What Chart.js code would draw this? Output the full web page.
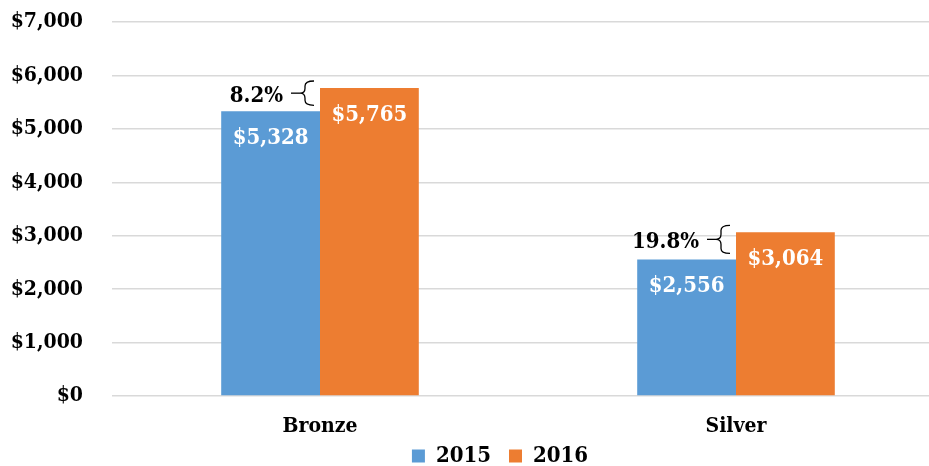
<!DOCTYPE html>
<html>
<head>
<meta charset="utf-8">
<script src="https://cdn.jsdelivr.net/npm/chart.js@4"></script>
<style>
  html, body { margin: 0; padding: 0; background: #fff; overflow: hidden; }
  #contenedor-grafica { position: relative; width: 944px; height: 466px; }
</style>
</head>
<body>
<div id="contenedor-grafica"><canvas id="grafica"></canvas></div>
<script>
// datos de la gráfica
const categorias = ["Bronze", "Silver"];
const valores2015 = [5328, 2556];
const valores2016 = [5765, 3064];
const cambios = ["8.2%", "19.8%"];

const fuente = '"DejaVu Serif Condensed", "DejaVu Serif", serif';

// Etiquetas blancas dentro de las barras
const etiquetasBarras = {
  id: "etiquetasBarras",
  afterDatasetsDraw(chart) {
    const ctx = chart.ctx;
    ctx.save();
    ctx.fillStyle = "#ffffff";
    ctx.font = "bold 22px " + fuente;
    ctx.textAlign = "center";
    ctx.textBaseline = "middle";
    chart.data.datasets.forEach((ds, i) => {
      chart.getDatasetMeta(i).data.forEach((bar, j) => {
        ctx.fillText("$" + ds.data[j].toLocaleString("en-US"), bar.x, bar.y + 27);
      });
    });
    ctx.restore();
  },
};

// Llave con el porcentaje de cambio
const llaves = {
  id: "llaves",
  afterDatasetsDraw(chart) {
    const ctx = chart.ctx;
    const azul = chart.getDatasetMeta(0).data;
    const naranja = chart.getDatasetMeta(1).data;
    ctx.save();
    ctx.strokeStyle = "#000";
    ctx.lineWidth = 1.3;
    azul.forEach((bar, j) => {
      const derecha = bar.x + bar.width / 2;
      const arriba = naranja[j].y - 7;
      const abajo = bar.y - 6;
      const medio = (arriba + abajo) / 2;
      const xv = derecha - 15;
      const r = 5;
      ctx.beginPath();
      ctx.moveTo(derecha - 6, arriba);
      ctx.quadraticCurveTo(xv, arriba, xv, arriba + r);
      ctx.lineTo(xv, medio - r);
      ctx.quadraticCurveTo(xv, medio, xv - 5, medio);
      ctx.quadraticCurveTo(xv, medio, xv, medio + r);
      ctx.lineTo(xv, abajo - r);
      ctx.quadraticCurveTo(xv, abajo, derecha - 6, abajo);
      ctx.stroke();
      ctx.beginPath();
      ctx.moveTo(xv - 5, medio);
      ctx.lineTo(derecha - 29, medio);
      ctx.stroke();
      ctx.fillStyle = "#000";
      ctx.font = "bold 22px " + fuente;
      ctx.textAlign = "right";
      ctx.textBaseline = "middle";
      ctx.fillText(cambios[j], derecha - 37, medio + 3);
    });
    ctx.restore();
  },
};

// Mover la leyenda a su sitio
const moverLeyenda = {
  id: "moverLeyenda",
  afterLayout(chart) {
    const l = chart.legend;
    const h = l.bottom - l.top;
    l.top = 452 - h / 2; l.bottom = l.top + h;
    l.left += 28; l.right += 28;
  },
};

new Chart(document.getElementById("grafica"), {
  type: "bar",
  data: {
    labels: categorias,
    datasets: [
      { label: "2015", data: valores2015, backgroundColor: "#5B9BD5" },
      { label: "2016", data: valores2016, backgroundColor: "#ED7D31" },
    ],
  },
  options: {
    responsive: true,
    maintainAspectRatio: false,
    animation: false,
    categoryPercentage: 0.475,
    barPercentage: 1,
    layout: { padding: { top: 22, left: 0, right: 0, bottom: -20 } },
    scales: {
      x: {
        grid: { display: false, drawTicks: false },
        border: { display: false },
        ticks: { color: "#000", padding: 18, font: { family: fuente, size: 21, weight: "bold" } },
        afterFit(scale) {
          scale.height = 40;
        },
      },
      y: {
        min: 0,
        max: 7000,
        grid: { color: "#d9d9d9", lineWidth: 1.5, drawTicks: false },
        border: { display: false },
        ticks: {
          stepSize: 1000,
          color: "#000",
          padding: 29,
          font: { family: fuente, size: 21, weight: "bold" },
          callback: (v) => "$" + v.toLocaleString("en-US"),
        },
        afterFit(scale) {
          scale.width = 112;
          scale.paddingTop = 0;
          scale.paddingBottom = 0;
        },
      },
    },
    plugins: {
      legend: {
        position: "bottom",
        labels: {
          color: "#000",
          boxWidth: 13,
          boxHeight: 13,
          padding: 18,
          font: { family: fuente, size: 22, weight: "bold" },
        },
      },
      tooltip: { enabled: false },
    },
  },
  plugins: [etiquetasBarras, llaves, moverLeyenda],
});
</script>
</body>
</html>
